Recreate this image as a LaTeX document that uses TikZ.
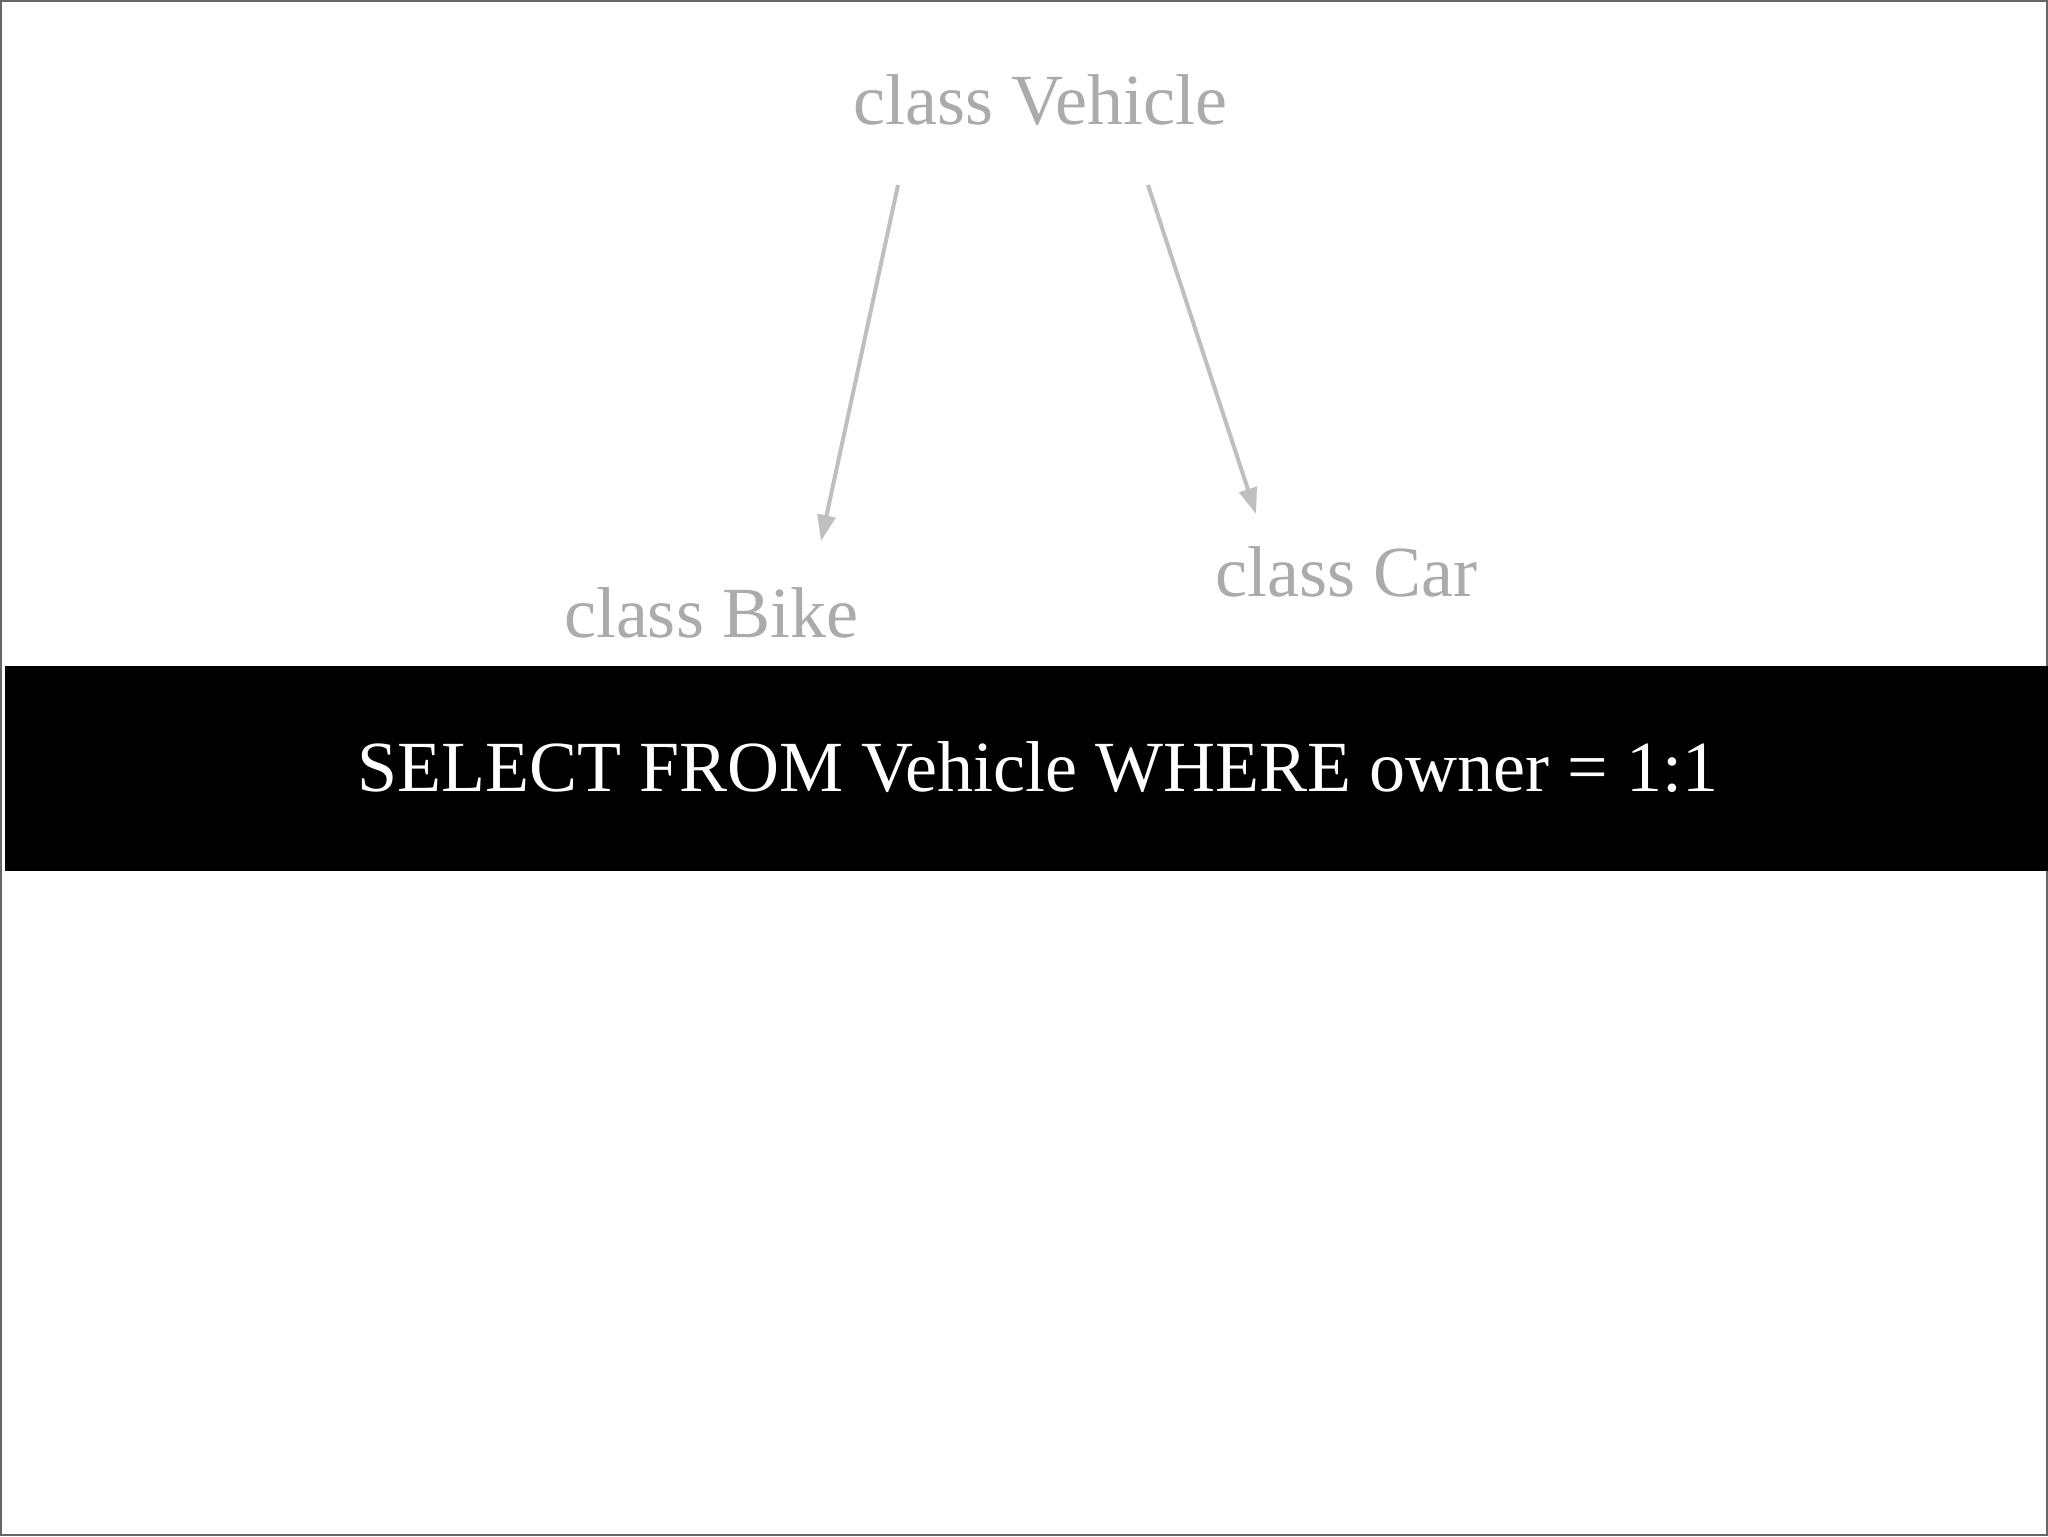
\documentclass[tikz,border=0pt]{standalone}
\usepackage{fontspec}
\setmainfont{Liberation Serif}
\usetikzlibrary{arrows.meta}

\tikzset{
  classlabel/.style={anchor=base,inner sep=0.75pt,text=black!33,font=\fontsize{36}{40}\selectfont},
  querytext/.style={anchor=base,inner sep=0.75pt,text=white,font=\fontsize{36}{40}\selectfont},
  subarrow/.style={draw=black!25,line width=2pt,-{Triangle[length=13pt,width=9pt]}}
}

\begin{document}
\begin{tikzpicture}[x=0.5pt,y=0.5pt,yscale=-1,xscale=1]
%frame, set diagram size 2048 x 1536
\useasboundingbox (0,0) rectangle (2048,1536);
\draw [color=black!60, line width=1pt] (1,1) rectangle (2047,1535);

%Shape: Rectangle [id:query band]
\fill [black] (5,666) rectangle (2048,871);

% Text Node
\node [classlabel] (vehicle) at (1040,125) {class Vehicle};
% Text Node
\node [classlabel] (bike) at (711,637) {class Bike};
% Text Node
\node [classlabel] (car) at (1346,596) {class Car};
% Text Node
\node [querytext] (query) at (1038,791) {SELECT FROM Vehicle WHERE owner = 1:1};

%arrow ends
\coordinate (vehicleleft) at (898,185);
\coordinate (vehicleright) at (1148,185);
\coordinate (biketop) at (821,541);
\coordinate (cartop) at (1256,514);

%Straight Lines [id:vehicle to bike]
\draw [subarrow] (vehicleleft) -- (biketop);
%Straight Lines [id:vehicle to car]
\draw [subarrow] (vehicleright) -- (cartop);

\end{tikzpicture}
\end{document}
